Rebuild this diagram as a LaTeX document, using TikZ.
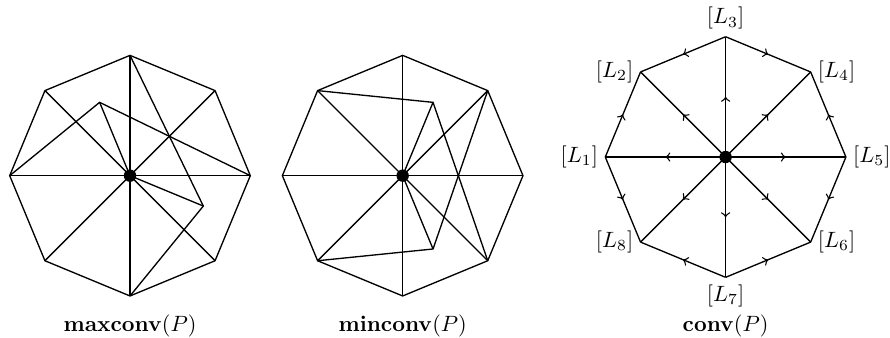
\documentclass[tikz,border=0pt]{standalone}
\usetikzlibrary{calc, positioning, decorations.markings}

\begin{document}
\begin{tikzpicture}[
    every node/.style={outer sep=0pt},
    edge/.style={line width=0.6pt},
    flow/.style={edge, postaction={decorate}, decoration={markings, mark=at position 0.5 with {\arrow{>}}}},
    hub/.style={circle, fill=black, inner sep=0pt, minimum size=5.6pt},
    corner/.style={inner sep=3.3pt},
    caption/.style={anchor=base, inner sep=0pt}
]
    \useasboundingbox (0,0) rectangle (14.13,5.366);

    % Centres of the three octagons
    \coordinate (m) at (2.064,2.577);
    \coordinate (n) at (6.393,2.577);
    \coordinate (c) at (11.52,2.873);

    % Corners L_1 ... L_8, counter-clockwise from the left one
    \foreach \i in {1,...,8} {
        \path (m) ++({225-45*\i}:1.91) coordinate (m\i);
        \path (n) ++({225-45*\i}:1.91) coordinate (n\i);
        \path (c) ++({225-45*\i}:1.91) coordinate (c\i);
    }

    % Inner points
    \path (m) ++(112.5:1.26) coordinate (ma);
    \path (m) ++(-22.5:1.26) coordinate (mb);
    \path (n) ++(67.5:1.26) coordinate (nc);
    \path (n) ++(-67.5:1.26) coordinate (nd);

    % maxconv(P)
    \draw [edge] (m1) -- (m2) -- (m3) -- (m4) -- (m5) -- (m6) -- (m7) -- (m8) -- cycle;
    \foreach \i in {1,...,8} \draw [edge] (m) -- (m\i);
    \draw [edge] (m1) -- (ma) -- (m5);
    \draw [edge] (ma) -- (m);
    \draw [edge] (m3) -- (mb) -- (m7);
    \draw [edge] (mb) -- (m);
    \node (mhub) [hub] at (m) {};
    \node (mcap) [caption] at ($(m)+(0,-2.477)$) {$\mathbf{maxconv}(P)$};

    % minconv(P)
    \draw [edge] (n1) -- (n2) -- (n3) -- (n4) -- (n5) -- (n6) -- (n7) -- (n8) -- cycle;
    \foreach \i in {1,...,8} \draw [edge] (n) -- (n\i);
    \draw [edge] (n2) -- (nc) -- (n6);
    \draw [edge] (nc) -- (n);
    \draw [edge] (n8) -- (nd) -- (n4);
    \draw [edge] (nd) -- (n);
    \node (nhub) [hub] at (n) {};
    \node (ncap) [caption] at ($(n)+(0,-2.477)$) {$\mathbf{minconv}(P)$};

    % conv(P)
    \draw [flow] (c1) -- (c2);
    \draw [flow] (c3) -- (c2);
    \draw [flow] (c3) -- (c4);
    \draw [flow] (c5) -- (c4);
    \draw [flow] (c5) -- (c6);
    \draw [flow] (c7) -- (c6);
    \draw [flow] (c7) -- (c8);
    \draw [flow] (c1) -- (c8);
    \foreach \i in {1,...,8} \draw [flow] (c) -- (c\i);
    \node (chub) [hub] at (c) {};

    \node (lab1) [corner, left=0pt of c1] {$[L_1]$};
    \node (lab2) [corner, left=0pt of c2] {$[L_2]$};
    \node (lab3) [corner, above=0pt of c3] {$[L_3]$};
    \node (lab4) [corner, right=0pt of c4] {$[L_4]$};
    \node (lab5) [corner, right=0pt of c5] {$[L_5]$};
    \node (lab6) [corner, right=0pt of c6] {$[L_6]$};
    \node (lab7) [corner, below=0pt of c7] {$[L_7]$};
    \node (lab8) [corner, left=0pt of c8] {$[L_8]$};
    \node (ccap) [caption] at ($(c)+(0,-2.773)$) {$\mathbf{conv}(P)$};
\end{tikzpicture}
\end{document}
